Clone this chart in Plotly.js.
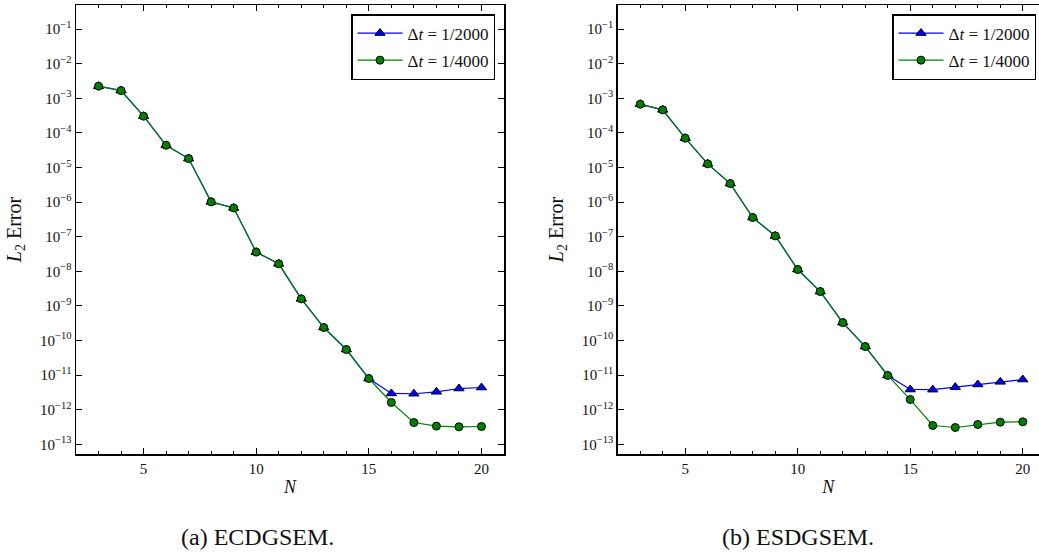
<!DOCTYPE html>
<html>
<head>
<meta charset="utf-8">
<script src="https://cdn.plot.ly/plotly-3.0.1.min.js"></script>
<style>
  html, body { margin: 0; padding: 0; background: #fff; }
  #chart { width: 1039px; height: 552px; }
</style>
</head>
<body>
<div id="chart"></div>
<script>
// ---- data ----
const N = [3, 4, 5, 6, 7, 8, 9, 10, 11, 12, 13, 14, 15, 16, 17, 18, 19, 20];

// (a) ECDGSEM
const ecdg_dt2000 = [2.25e-3, 1.68e-3, 3.06e-4, 4.4e-5, 1.82e-5, 1.02e-6, 6.8e-7, 3.6e-8, 1.65e-8, 1.6e-9, 2.38e-10, 5.5e-11, 7.98e-12, 2.95e-12, 2.9e-12, 3.3e-12, 4.1e-12, 4.39e-12];
const ecdg_dt4000 = [2.25e-3, 1.68e-3, 3.06e-4, 4.4e-5, 1.82e-5, 1.02e-6, 6.8e-7, 3.6e-8, 1.65e-8, 1.6e-9, 2.38e-10, 5.5e-11, 7.98e-12, 1.62e-12, 4.26e-13, 3.36e-13, 3.2e-13, 3.27e-13];

// (b) ESDGSEM
const esdg_dt2000 = [6.8e-4, 4.66e-4, 7.08e-5, 1.28e-5, 3.45e-6, 3.59e-7, 1.06e-7, 1.13e-8, 2.6e-9, 3.3e-10, 6.7e-11, 9.8e-12, 3.84e-12, 3.8e-12, 4.5e-12, 5.37e-12, 6.4e-12, 7.46e-12];
const esdg_dt4000 = [6.8e-4, 4.66e-4, 7.08e-5, 1.28e-5, 3.45e-6, 3.59e-7, 1.06e-7, 1.13e-8, 2.6e-9, 3.3e-10, 6.7e-11, 9.8e-12, 1.97e-12, 3.5e-13, 3.06e-13, 3.74e-13, 4.37e-13, 4.47e-13];

const seriesNames = ["\u0394<i>t</i> = 1/2000", "\u0394<i>t</i> = 1/4000"];
const captions = ["(a) ECDGSEM.", "(b) ESDGSEM."];

const yExponents = [-13, -12, -11, -10, -9, -8, -7, -6, -5, -4, -3, -2, -1];
const yTickVals = yExponents.map(e => Math.pow(10, e));
const yTickText = yExponents.map(e => "10<sup>\u2212" + (-e) + "</sup>");
const xTickVals = [5, 10, 15, 20];
const xTickText = ["5", "10", "15", "20"];

// ---- styling ----
const FONT = "Liberation Serif";
const TXT = "#111";
const BLUE = "#0000ff", GREEN = "#008000";

function blueTrace(x, y, xa, ya, leg) {
  return {
    x: x, y: y, xaxis: xa, yaxis: ya, type: "scatter", mode: "lines+markers",
    name: seriesNames[0], legend: leg, legendgroup: "a",
    line: {color: BLUE, width: 1.2},
    marker: {symbol: "triangle-up", size: 9, color: BLUE, line: {color: "#000", width: 1}}
  };
}
function greenTrace(x, y, xa, ya, leg) {
  return {
    x: x, y: y, xaxis: xa, yaxis: ya, type: "scatter", mode: "lines+markers",
    name: seriesNames[1], legend: leg, legendgroup: "b",
    line: {color: GREEN, width: 1.2},
    marker: {symbol: "circle", size: 8, color: GREEN, line: {color: "#000", width: 1}}
  };
}

const traces = [
  blueTrace(N, ecdg_dt2000, "x", "y", "legend"),
  greenTrace(N, ecdg_dt4000, "x", "y", "legend"),
  blueTrace(N, esdg_dt2000, "x2", "y2", "legend2"),
  greenTrace(N, esdg_dt4000, "x2", "y2", "legend2")
];

const W = 1039, H = 552;
const yDomain = [(H - 454) / H, (H - 5) / H];

function xAxis(domain, range, anchor, mirror) {
  return {
    domain: domain, range: range, anchor: anchor,
    showgrid: false, zeroline: false,
    showline: true, linecolor: "#000", linewidth: 1.5, mirror: mirror,
    ticks: "inside", ticklen: 6, tickwidth: 1, tickcolor: "#000",
    tickmode: "array", tickvals: xTickVals, ticktext: xTickText,
    minor: {ticks: "inside", ticklen: 3, tickwidth: 1, tickcolor: "#000", dtick: 1, tick0: 0, showgrid: false},
    tickfont: {family: FONT, size: 15, color: TXT},
    title: {text: "<i>N</i>", font: {family: FONT, size: 18, color: TXT}, standoff: 5}
  };
}
function yAxis(anchor, mirror) {
  return {
    type: "log", domain: yDomain, range: [-13.28, -0.3], anchor: anchor,
    showgrid: false, zeroline: false,
    showline: true, linecolor: "#000", linewidth: 1.5, mirror: mirror,
    ticks: "inside", ticklen: 6, tickwidth: 1, tickcolor: "#000",
    tickmode: "array", tickvals: yTickVals, ticktext: yTickText,
    tickfont: {family: FONT, size: 15, color: TXT},
    title: {text: "<i>L</i><sub>2</sub> Error", font: {family: FONT, size: 20, color: TXT}, standoff: 13}
  };
}

function legendBox(xRight) {
  return {
    x: xRight, xanchor: "right", y: (H - 14) / H, yanchor: "top",
    bgcolor: "#fff", bordercolor: "#000", borderwidth: 1.5,
    font: {family: FONT, size: 17, color: TXT},
    traceorder: "grouped", tracegroupgap: 2,
    itemwidth: 45
  };
}

const layout = {
  width: W, height: H,
  margin: {l: 0, r: 0, t: 0, b: 0},
  paper_bgcolor: "#fff", plot_bgcolor: "#fff",
  showlegend: true,
  xaxis: xAxis([76 / W, 504 / W], [2, 21], "y", "allticks"),
  yaxis: yAxis("x", "allticks"),
  xaxis2: xAxis([617.7 / W, 1], [2, 20.72], "y2", "allticks"),
  yaxis2: yAxis("x2", false),
  legend: legendBox(495 / W),
  legend2: legendBox(1036 / W),
  annotations: [
    {text: captions[0], x: 257 / W, y: (H - 537) / H, xref: "paper", yref: "paper",
     showarrow: false, font: {family: FONT, size: 24, color: TXT}, xanchor: "center", yanchor: "middle"},
    {text: captions[1], x: 798 / W, y: (H - 537) / H, xref: "paper", yref: "paper",
     showarrow: false, font: {family: FONT, size: 24, color: TXT}, xanchor: "center", yanchor: "middle"}
  ]
};

Plotly.newPlot("chart", traces, layout, {staticPlot: true, displayModeBar: false});
</script>
</body>
</html>
